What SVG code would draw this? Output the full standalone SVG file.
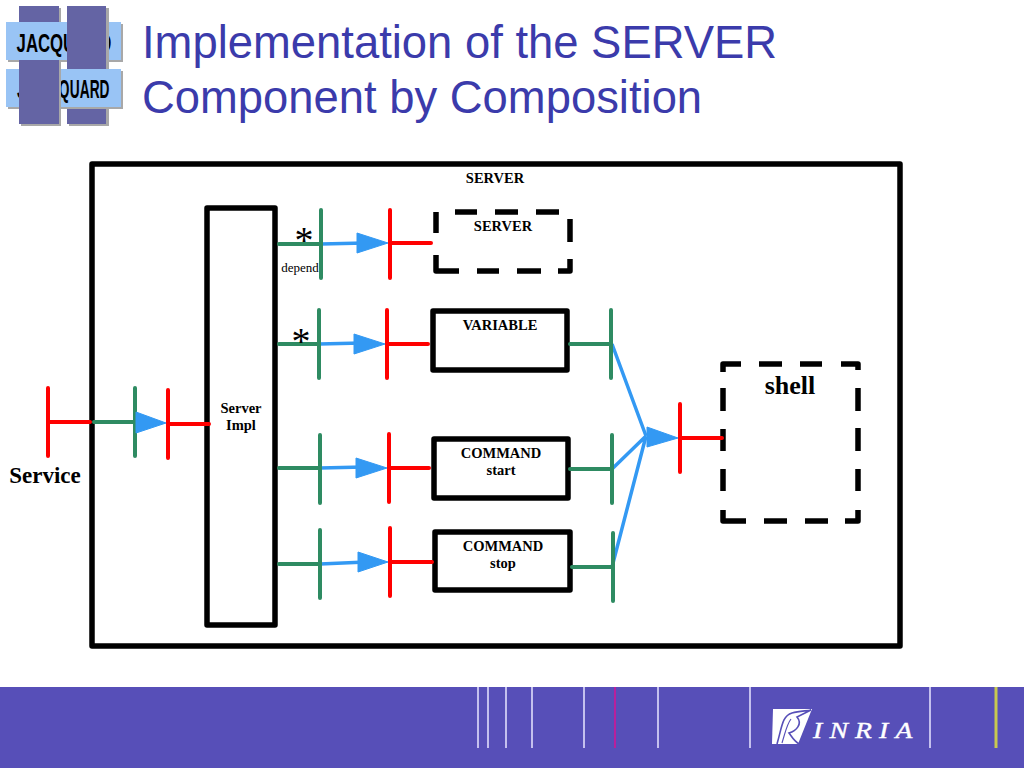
<svg xmlns="http://www.w3.org/2000/svg" width="1024" height="768" viewBox="0 0 1024 768">
<style>
.box{fill:#fff;stroke:#000;stroke-width:5.5;stroke-linejoin:round}
.dash{fill:none;stroke:#000;stroke-width:5.5;stroke-linejoin:round}
.g{stroke:#2e8b62;stroke-width:4;stroke-linecap:round;fill:none}
.r{stroke:#f00;stroke-width:4;stroke-linecap:round;fill:none}
.b{stroke:#3399f3;stroke-width:3.5;fill:none}
.a{fill:#3399f3;stroke:#3399f3;stroke-width:1;stroke-linejoin:round}
.t{font-family:"Liberation Serif",serif;fill:#000;text-anchor:middle}
.s{font-size:14.5px;font-weight:bold}
.title{font-family:"Liberation Sans",sans-serif;font-size:45.4px;fill:#3b3bab}
.lg{font-family:"Liberation Sans",sans-serif;font-size:25px;font-weight:bold;fill:#000}
.v{stroke-width:2;fill:none}
</style>
<g id="logo">
<rect x="21" y="8" width="40" height="118" fill="#a8a8a8"/>
<rect x="19" y="6" width="40" height="118" fill="#6464a4"/>
<rect x="8" y="24" width="115" height="38" fill="#a8a8a8"/>
<rect x="6" y="22" width="115" height="38" fill="#99c4f5"/>
<text class="lg" text-anchor="middle" transform="translate(64 52) scale(.67 1)">JACQUARD</text>
<rect x="69" y="8" width="40" height="118" fill="#a8a8a8"/>
<rect x="67" y="6" width="39" height="118" fill="#6464a4"/>
<rect x="8" y="71" width="115" height="38" fill="#a8a8a8"/>
<rect x="6" y="69" width="115" height="38" fill="#99c4f5"/>
<text class="lg" transform="translate(0 98) scale(.55 1)" x="31 60 75 107 127 145 163 181">JACQUARD</text>
<rect x="59" y="62" width="2" height="64" fill="#a8a8a8"/>
<rect x="19" y="60" width="40" height="64" fill="#6464a4"/>
</g>
<text class="title" x="142" y="58">Implementation of the SERVER</text>
<text class="title" x="142" y="113">Component by Composition</text>
<g id="footer">
<rect x="0" y="687" width="1024" height="81" fill="#574fb8"/>
<g class="v">
<path d="M478 687V748M488 687V748M506 687V748M532 687V748M584 687V748M658 687V748M750 687V748M930 687V748" stroke="#c4c0ee"/>
<path d="M615 687V748" stroke="#b8209c"/>
<path d="M996 687V748" stroke="#c8c850" stroke-width="3"/>
</g>
<path d="M773 709H812L798 744H772Z" fill="#fff"/>
<path d="M777 744C782 727 782 716 792 713C799 711 806 711 811 710L797 717C803 724 796 731 789 733C792 737 794 741 799 744" fill="none" stroke="#574fb8" stroke-width="1.6"/>
<path d="M782 743C786 730 787 724 791 719" fill="none" stroke="#574fb8" stroke-width="1.2"/>
<text transform="translate(813 738) scale(1.2 1)" font-family="Liberation Serif,serif" font-style="italic" font-size="23px" fill="#fff" stroke="#fff" stroke-width=".4" letter-spacing="6">INRIA</text>
</g>
<g id="server-outer"><rect class="box" x="92" y="164" width="808" height="482"/><text class="t s" x="495" y="183">SERVER</text></g>
<g id="server-impl"><rect class="box" x="207" y="208" width="68" height="417"/><text class="t s" x="241" y="413">Server</text><text class="t s" x="241" y="430">Impl</text></g>
<g id="server-inner"><path class="dash" d="M455 212H477M495 212H518M536 212H559M570 219V242M570 259V271H558M541 271H517M499 271H477M459 271H436V255M436 233V212"/><text class="t s" x="503" y="231">SERVER</text></g>
<g id="variable"><rect class="box" x="433" y="311" width="134" height="59"/><text class="t s" x="500" y="330">VARIABLE</text></g>
<g id="command-start"><rect class="box" x="434" y="439" width="134" height="59"/><text class="t s" x="501" y="458">COMMAND</text><text class="t s" x="501" y="475">start</text></g>
<g id="command-stop"><rect class="box" x="435" y="532" width="135" height="58"/><text class="t s" x="503" y="551">COMMAND</text><text class="t s" x="503" y="568">stop</text></g>
<g id="shell"><path class="dash" d="M723 372V364H741M759 364H782M800 364H822M841 364H858V370M858 388V411M858 428V451M858 469V491M858 510V521H845M828 521H805M787 521H764M746 521H723V510M723 491V469M723 451V429M723 411V388"/><text class="t" x="790" y="394" font-size="26px" font-weight="bold">shell</text></g>
<g id="connectors">
<path class="b" d="M321 244L365 243M319 344L362 343M320 468L364 467M320 564L366 562M135 422H146M612 344L646 436M612 469L646 436M612 567L646 436"/>
<path class="g" d="M279 244H321M321 210V278M279 344H319M319 310V378M279 468H320M320 435V503M279 564H320M320 530V598M94 422H135M135 388V456M570 344H611M611 310V378M570 469H612M612 435V503M572 567H613M613 533V601"/>
<path class="r" d="M390 243H431M390 210V278M387 344H428M387 310V378M389 468H429M389 434V502M390 562H432M390 528V596M48 422H90M48 388V456M168 424H209M168 390V458M680 438H722M680 404V472"/>
<path class="a" d="M357 233L388 243L357 253ZM354 334L385 344L354 354ZM356 458L387 468L356 478ZM358 552L388 562L358 572ZM136 412L166 423L136 433ZM647 427L678 438L647 447Z"/>
</g>
<text class="t" x="304" y="253" font-size="38px">*</text>
<text class="t" x="301" y="354" font-size="38px">*</text>
<text class="t" x="300" y="272" font-size="13px">depend</text>
<text class="t" x="45" y="483" font-size="23px" font-weight="bold">Service</text>
</svg>
